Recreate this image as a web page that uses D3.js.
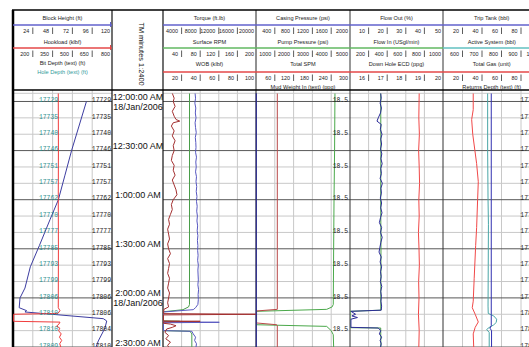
<!DOCTYPE html>
<html>
<head>
<meta charset="utf-8">
<script src="https://cdn.jsdelivr.net/npm/d3@7"></script>
<style>
  html, body { margin: 0; padding: 0; background: #fff; overflow: hidden; }
  svg { display: block; }
  text { font-family: "Liberation Sans", Arial, sans-serif; }
  .mono { font-family: "Liberation Mono", "Courier New", monospace; }
</style>
</head>
<body>
<div id="log"></div>
<script>
// minutes after 00:00 18/Jan/2006 -> value
const blockHeight = [[0,89],[15,80],[30,71],[45,63],[60,55],[72,45],[88,32],[101,21],[114,14.5],[120,8.5],[126,7.5],[127.8,16.5],[128.6,14.5],[132.7,109.5],[134.1,113.6],[138.4,111.5],[146.3,103.4],[150,100.6]];
const hookload = [[-5,393],[30,394],[60,393],[90,394],[126,393],[127.8,406],[129.5,390],[130,55],[134.3,55],[134.8,406],[136,398],[137.2,381],[138.5,405],[140,395],[142,415],[144,402],[146,419],[148,404],[150,412]];
const torque = [[-5,6900],[-2,7000],[1,6850],[4,7050],[7,6950],[10,7100],[13,6900],[16,7000],[19,7150],[22,6950],[25,7050],[28,7100],[31,7000],[34,7200],[37,7050],[40,7150],[43,7000],[46,7200],[49,7100],[52,7250],[55,7150],[58,7300],[61,7200],[64,7350],[67,7250],[70,7400],[73,7300],[76,7450],[79,7350],[82,7500],[85,7400],[88,7500],[91,7450],[94,7550],[97,7450],[100,7600],[103,7500],[106,7550],[109,7600],[112,7500],[115,7650],[118,7550],[121,7600],[124,7500],[126,7000],[127.2,6500],[128.6,100],[134.6,80],[134.9,12100],[135.2,80],[140,100],[140.4,6200],[142,6500],[144,7000],[146,6800],[148,7200],[150,7100]];
const rpm = [[-5,57],[60,57],[124,57],[125.5,55],[127.2,43],[128.5,0.5],[134,0.5],[134.3,36],[134.6,0.5],[140,0.5],[140.4,58],[142,62],[150,62]];
const wob = [[-5,10],[-2,12],[0,11],[3,13],[6,10],[9,12],[11,14],[12,18],[13,11],[15,9],[18,12],[21,10],[24,13],[27,11],[30,12],[33,10],[36,9],[39,12],[42,11],[45,13],[48,10],[51,12],[54,14],[57,15],[60,11],[63,9],[66,10],[69,8],[72,6],[75,7],[78,5],[81,6],[84,7],[87,5],[90,6],[93,8],[96,5],[99,7],[102,6],[105,5],[108,7],[111,6],[114,5],[117,7],[120,6],[123,5],[125.5,6],[127,1],[129.6,0.5],[130,100],[130.4,0.5],[134.1,0.5],[134.3,40],[134.6,0.5],[135.5,0.5],[136,8],[137,14],[138,10],[139,4],[141,2],[143,6],[145,3],[147,8],[149,5],[150,6]];
const casingPressure = [[-5,0],[150,0]];
const pumpPressure = [[-5,4200],[30,4180],[60,4150],[90,4130],[124,4110],[125.5,4050],[127,3760],[128.2,30],[136.4,30],[137.4,3760],[140,4000],[142.5,4110],[150,4130]];
const totalSpm = [[-5,68],[127,68],[128,1],[135.3,1],[136.4,66],[137,68],[150,68]];
const flowOut = [[-5,16.5],[-2,16.8],[1,16.2],[4,16.9],[7,16.4],[10,15.2],[12,14.5],[14,16.8],[17,16.3],[20,17.2],[23,16.5],[26,17.0],[29,16.4],[32,17.1],[35,16.6],[38,17.3],[41,16.5],[44,16.9],[47,16.2],[50,17.4],[53,16.6],[56,16.9],[59,16.3],[62,17.0],[65,16.5],[68,17.2],[71,16.4],[74,15.8],[77,17.0],[80,16.4],[83,17.3],[86,16.6],[89,16.1],[92,15.6],[95,16.8],[98,16.2],[101,17.0],[104,16.4],[107,16.8],[110,16.3],[113,17.1],[116,16.5],[119,16.9],[122,16.6],[125,17.0],[127.5,16.8],[128.2,0.5],[130,3],[131,1],[132,4],[133,0.5],[138,0.5],[138.4,15.2],[140,16.5],[142,15.8],[144,17.0],[146,16.2],[148,16.8],[150,16.4]];
const flowIn = [[-5,330],[30,332],[60,330],[90,333],[120,331],[127.5,331],[128.2,0],[138.2,0],[138.4,330],[150,332]];
const ecd = [[-5,18.72],[10,18.70],[20,18.73],[30,18.69],[40,18.72],[50,18.74],[60,18.70],[70,18.72],[80,18.68],[90,18.71],[100,18.73],[110,18.69],[120,18.71],[130,18.68],[140,18.72],[150,18.70]];
const tripTank = [[-5,49.5],[60,49.5],[130,49.5],[137,49.5],[138.5,48.2],[140,49.8],[150,49.8]];
const activeSystem = [[-5,729],[30,729],[60,731],[75,733],[100,732],[125,731],[129.5,732],[131,760],[133,775],[135,773],[136.5,760],[138.4,732],[139.5,724],[141,737],[150,737]];
const totalGas = [[-5,31],[5,31],[11,29.4],[20,30.5],[38,34.5],[49,36.2],[60,35.5],[77,34.5],[88,33.5],[108,32],[122,31],[126,30],[130,33],[134.7,36.2],[138,33],[142,31],[150,31.5]];

// text curves, one per 10 minutes from 00:00
const holeDepthText = ["17729","17735","17740","17746","17751","17757","17762","17770","17777","17785","17793","17799","17806","17810","17810","17809"];
const bitDepthText = ["17729","17735","17740","17746","17751","17757","17762","17770","17777","17785","17793","17799","17806","17806","17804","17810"];
const returnsDepthText = ["17720","17726","17731","17737","17742","17748","17753","17760","17767","17775","17783","17790","17797","17800","17802","17805"];
const mudWeightText = ["18.5","18.5","18.5","18.5","18.5","18.5","18.5","18.5"]; // every 20 min

// header tick labels
const blockTicks = [24,48,72,96,120];
const hookTicks = [200,350,500,650,800];
const torqueTicks = [4000,8000,12000,16000,20000];
const rpmTicks = [40,80,120,160,200];
const wobTicks = [20,40,60,80,100];
const casingTicks = [400,800,1200,1600,2000];
const pumpTicks = [1000,2000,3000,4000,5000];
const spmTicks = [60,120,180,240,300];
const flowOutTicks = [10,20,30,40,50];
const flowInTicks = [200,400,600,800,1000];
const ecdTicks = [16,17,18,19,20];
const tripTicks = [20,40,60,80,100];
const activeTicks = [600,700,800,900,1000];
const gasTicks = [20,40,60,80,100];

const timeLabels = [
  {m:0, text:"12:00:00 AM", date:"18/Jan/2006"},
  {m:30, text:"12:30:00 AM"},
  {m:60, text:"1:00:00 AM"},
  {m:90, text:"1:30:00 AM"},
  {m:120, text:"2:00:00 AM", date:"18/Jan/2006"},
  {m:150, text:"2:30:00 AM"}
];

const W = 529, H = 347;
const t0 = new Date(2006, 0, 18, 0, 0);
const at = m => new Date(t0.getTime() + m * 60000);

const dataTop = 93.3, dataBottom = 347;
const y = d3.scaleTime().domain([at(-5), at(150)]).range([dataTop, dataBottom]);

const tracks = [
  {x0: 13, x1: 112},
  {x0: 163, x1: 256},
  {x0: 256, x1: 350},
  {x0: 350, x1: 443},
  {x0: 443, x1: 540.5}
];
const timeTrack = {x0: 112, x1: 163};

const BLUE = "#6262cc", GREEN = "#62b862", RED = "#e44848", TEAL = "#62c0c0";

const headers = [
  {track: 0, rows: [
    {name: "Block Height (ft)", line: BLUE, ticks: blockTicks, domain: [0,120]},
    {name: "Hookload (klbf)", line: RED, ticks: hookTicks, domain: [50,800]}],
   extra: [{name: "Bit Depth (text) (ft)", color: "#222", y: 65}, {name: "Hole Depth (text) (ft)", color: "#2e9a9a", y: 74}], caps: true},
  {track: 1, rows: [
    {name: "Torque (ft.lb)", line: BLUE, ticks: torqueTicks, domain: [0,20000]},
    {name: "Surface RPM", line: GREEN, ticks: rpmTicks, domain: [0,200]},
    {name: "WOB (klbf)", line: RED, ticks: wobTicks, domain: [0,100]}], extra: []},
  {track: 2, rows: [
    {name: "Casing Pressure (psi)", line: BLUE, ticks: casingTicks, domain: [0,2000]},
    {name: "Pump Pressure (psi)", line: GREEN, ticks: pumpTicks, domain: [0,5000]},
    {name: "Total SPM", line: RED, ticks: spmTicks, domain: [0,300]}],
   extra: [{name: "Mud Weight In (text) (ppg)", color: "#222", y: 89}]},
  {track: 3, rows: [
    {name: "Flow Out (%)", line: BLUE, ticks: flowOutTicks, domain: [0,50]},
    {name: "Flow In (USgl/min)", line: GREEN, ticks: flowInTicks, domain: [0,1000]},
    {name: "Down Hole ECD (ppg)", line: RED, ticks: ecdTicks, domain: [15,20]}], extra: []},
  {track: 4, rows: [
    {name: "Trip Tank (bbl)", line: BLUE, ticks: tripTicks, domain: [0,100]},
    {name: "Active System (bbl)", line: TEAL, ticks: activeTicks, domain: [500,1000]},
    {name: "Total Gas (unit)", line: RED, ticks: gasTicks, domain: [0,100]}],
   extra: [{name: "Returns Depth (text) (ft)", color: "#222", y: 89}]}
];

const curves = [
  {data: blockHeight, track: 0, domain: [0,120], color: "#3c3ca0"},
  {data: hookload, track: 0, domain: [50,800], color: "#f03c3c"},
  {data: rpm, track: 1, domain: [0,200], color: "#4a9e4a"},
  {data: torque, track: 1, domain: [0,20000], color: "#5858c0"},
  {data: wob, track: 1, domain: [0,100], color: "#a33030"},
  {data: pumpPressure, track: 2, domain: [0,5000], color: "#4aa84a"},
  {data: totalSpm, track: 2, domain: [0,300], color: "#b84848"},
  {data: flowIn, track: 3, domain: [0,1000], color: "#4a9e4a"},
  {data: flowOut, track: 3, domain: [0,50], color: "#2c2c98"},
  {data: ecd, track: 3, domain: [15,20], color: "#f04848"},
  {data: activeSystem, track: 4, domain: [500,1000], color: "#4aa6a6"},
  {data: totalGas, track: 4, domain: [0,100], color: "#f04848"},
  {data: tripTank, track: 4, domain: [0,100], color: "#3030b0"}
];

const svg = d3.select("#log").append("svg")
  .attr("width", W).attr("height", H)
  .style("background", "#fff");

const defs = svg.append("defs");
tracks.forEach((tr, i) => {
  defs.append("clipPath").attr("id", "clip" + i)
    .append("rect")
    .attr("x", tr.x0).attr("y", dataTop)
    .attr("width", tr.x1 - tr.x0).attr("height", dataBottom - dataTop + 5);
});

// ---- grid ----
const grid = svg.append("g");
const gridTimes = d3.range(0, 151, 10);
tracks.forEach(tr => {
  const w = tr.x1 - tr.x0;
  for (let k = 1; k < 5; k++) {
    grid.append("line")
      .attr("x1", tr.x0 + w * k / 5).attr("x2", tr.x0 + w * k / 5)
      .attr("y1", 90).attr("y2", H)
      .attr("stroke", "#c8c8c8").attr("stroke-width", 1);
  }
  grid.append("line")
    .attr("x1", tr.x0).attr("x2", tr.x1)
    .attr("y1", dataTop).attr("y2", dataTop)
    .attr("stroke", "#c8c8c8");
  grid.selectAll(null)
    .data(gridTimes)
    .join("line")
    .attr("x1", tr.x0).attr("x2", tr.x1)
    .attr("y1", d => y(at(d))).attr("y2", d => y(at(d)))
    .attr("stroke", d => d % 30 === 0 ? "#585858" : "#c8c8c8")
    .attr("stroke-width", 1);
});

// track borders
[[13, 2.5, "#000"], [112, 1.2, "#111"], [163, 1.2, "#111"], [256, 1, "#222"], [350, 1, "#333"], [443, 1, "#333"]]
  .forEach(([x, w, c]) => {
    svg.append("line")
      .attr("x1", x).attr("x2", x).attr("y1", 10).attr("y2", H)
      .attr("stroke", c).attr("stroke-width", w);
  });
svg.append("line").attr("x1", 12).attr("x2", W).attr("y1", 10).attr("y2", 10)
  .attr("stroke", "#000").attr("stroke-width", 1.5);
svg.append("line").attr("x1", 12).attr("x2", W).attr("y1", 90).attr("y2", 90)
  .attr("stroke", "#000").attr("stroke-width", 1.5);

// ---- header ----
const lineY = [25, 48, 72];
const titleY = [20, 43.5, 66];
const hdr = svg.append("g");
headers.forEach(h => {
  const tr = tracks[h.track];
  const cx = (tr.x0 + tr.x1) / 2;
  h.rows.forEach((r, i) => {
    const xs = d3.scaleLinear().domain([0, r.ticks.length]).range([tr.x0, tr.x1]);
    hdr.append("text")
      .attr("x", cx).attr("y", titleY[i])
      .attr("text-anchor", "middle")
      .attr("font-size", 5.6).attr("fill", "#222")
      .text(r.name);
    hdr.append("line")
      .attr("x1", tr.x0).attr("x2", tr.x1)
      .attr("y1", lineY[i]).attr("y2", lineY[i])
      .attr("stroke", r.line).attr("stroke-width", 1.4);
    if (h.caps) {
      hdr.append("line")
        .attr("x1", tr.x1 - 1.5).attr("x2", tr.x1 - 1.5)
        .attr("y1", lineY[i] - 3).attr("y2", lineY[i] + 2)
        .attr("stroke", r.line).attr("stroke-width", 1);
    }
    r.ticks.forEach((t, k) => {
      const last = k === r.ticks.length - 1;
      const bx = xs(k + 1);
      hdr.append("text")
        .attr("x", last ? tr.x1 - 2 : bx - 3.5)
        .attr("y", lineY[i] + 8)
        .attr("text-anchor", "end")
        .attr("font-size", 5.4).attr("fill", "#222")
        .text(t);
      if (!last) {
        hdr.append("line")
          .attr("x1", bx).attr("x2", bx)
          .attr("y1", lineY[i] + 2.5).attr("y2", lineY[i] + 9)
          .attr("stroke", "#333").attr("stroke-width", 0.8);
      }
    });
  });
  h.extra.forEach(e => {
    hdr.append("text")
      .attr("x", cx).attr("y", e.y)
      .attr("text-anchor", "middle")
      .attr("font-size", 5.6).attr("fill", e.color)
      .text(e.name);
  });
});

hdr.append("text")
  .attr("transform", "translate(139,54) rotate(90)")
  .attr("text-anchor", "middle")
  .attr("font-size", 7.4).attr("fill", "#111")
  .text("TM minutes 1:2400");

// ---- curves ----
curves.forEach(c => {
  const tr = tracks[c.track];
  const xs = d3.scaleLinear().domain(c.domain).range([tr.x0, tr.x1]);
  const line = d3.line()
    .x(d => xs(d[1]))
    .y(d => y(at(d[0])));
  svg.append("path")
    .datum(c.data)
    .attr("clip-path", `url(#clip${c.track})`)
    .attr("fill", "none")
    .attr("stroke", c.color)
    .attr("stroke-width", 1)
    .attr("d", line);
});

// casing pressure sits on the left border of its track
{
  const tr = tracks[2];
  const xs = d3.scaleLinear().domain([0, 2000]).range([tr.x0, tr.x1]);
  svg.append("path")
    .datum(casingPressure)
    .attr("fill", "none")
    .attr("stroke", "#2a2a90")
    .attr("stroke-width", 1.2)
    .attr("d", d3.line().x(d => xs(d[1]) + 0.3).y(d => y(at(d[0]))));
}

// ---- text curves ----
const txt = svg.append("g").attr("class", "mono").attr("font-size", 6.4);
const textRow = (arr, step, x, anchor, color) => {
  txt.selectAll(null)
    .data(arr)
    .join("text")
    .attr("class", "mono")
    .attr("x", x)
    .attr("y", (d, i) => y(at(i * step)) + 0.8)
    .attr("text-anchor", anchor)
    .attr("fill", color)
    .text(d => d);
};
textRow(holeDepthText, 10, 48.5, "middle", "#2e8f8f");
textRow(bitDepthText, 10, 111, "end", "#222");
textRow(mudWeightText, 20, 348, "end", "#222");
textRow(returnsDepthText, 10, 539.5, "end", "#222");

// ---- time labels ----
const tg = svg.append("g");
timeLabels.forEach(l => {
  const yy = y(at(l.m));
  tg.append("text")
    .attr("x", 138).attr("y", yy - 1.5)
    .attr("text-anchor", "middle")
    .attr("font-size", 9).attr("fill", "#111")
    .text(l.text);
  if (l.date) {
    tg.append("text")
      .attr("x", 138).attr("y", yy + 8.5)
      .attr("text-anchor", "middle")
      .attr("font-size", 9).attr("fill", "#111")
      .text(l.date);
  }
});
</script>
</body>
</html>
